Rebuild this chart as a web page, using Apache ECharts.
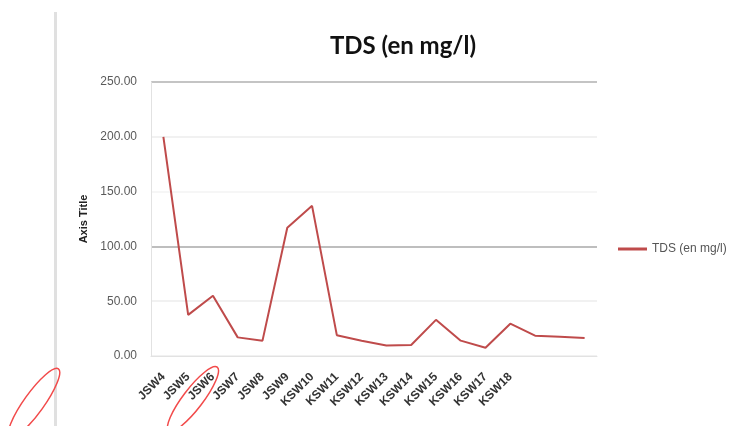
<!DOCTYPE html>
<html>
<head>
<meta charset="utf-8">
<script src="https://cdn.jsdelivr.net/npm/echarts@6/dist/echarts.min.js"></script>
<style>
html,body{margin:0;padding:0;background:#fff;}
#chart{width:737px;height:426px;}
</style>
</head>
<body>
<div id="chart"></div>
<script>
var categories = ["JSW4","JSW5","JSW6","JSW7","JSW8","JSW9","KSW10","KSW11","KSW12","KSW13","KSW14","KSW15","KSW16","KSW17","KSW18","","",""];
var tdsValues = [200, 37.5, 55, 17, 14, 117, 137, 19, 14, 9.5, 10, 33, 14, 7.5, 29.5, 18.5, 17.5, 16.5];
var seriesName = "TDS (en mg/l)";
var chartTitle = "TDS (en mg/l)";
var yAxisName = "Axis Title";

var chart = echarts.init(document.getElementById('chart'));
chart.setOption({
  animation: false,
  backgroundColor: '#ffffff',
  title: {
    text: chartTitle,
    left: 398, top: 29, textAlign: 'center',
    textStyle: {fontFamily: 'Lato', fontWeight: 'bold', fontSize: 24, color: '#111'}
  },
  legend: {
    data: [seriesName],
    left: 613, top: 238,
    icon: 'rect', itemWidth: 29, itemHeight: 3,
    textStyle: {fontFamily: 'Liberation Sans', fontSize: 12, color: '#555'}
  },
  grid: {left: 151, right: 140, top: 82, bottom: 70},
  xAxis: {
    type: 'category',
    data: categories,
    boundaryGap: true,
    axisLine: {show: true, lineStyle: {color: '#e2e2e2'}},
    axisTick: {show: false},
    axisLabel: {interval: 0, rotate: 45, margin: 19, fontFamily: 'Liberation Sans', fontSize: 12, fontWeight: 'bold', color: '#333'}
  },
  yAxis: {
    type: 'value',
    min: 0, max: 250, interval: 50,
    name: yAxisName,
    nameLocation: 'middle',
    nameGap: 62,
    nameTextStyle: {fontFamily: 'Liberation Sans', fontSize: 11, fontWeight: 'bold', color: '#222'},
    axisLine: {show: true, lineStyle: {color: '#e2e2e2'}},
    axisTick: {show: false},
    axisLabel: {margin: 14, fontFamily: 'Liberation Sans', fontSize: 12, color: '#5a5a5a', formatter: function (v) { return v.toFixed(2); }},
    splitLine: {show: true, lineStyle: {color: ['#ececec', '#ececec', '#a9a9a9', '#f3f3f3', '#ececec', '#b0b0b0'], width: 1.5}}
  },
  series: [{
    name: seriesName,
    type: 'line',
    data: tdsValues,
    symbol: 'none',
    lineStyle: {color: '#bf4b4b', width: 2},
    itemStyle: {color: '#bf4b4b'}
  }],
  graphic: [
    {type: 'rect', shape: {x: 54, y: 12, width: 3, height: 420}, style: {fill: '#e0e0e0'}, silent: true},
    {type: 'ellipse', x: 34, y: 403, rotation: 0.95, shape: {cx: 0, cy: 0, rx: 42, ry: 10}, style: {fill: 'none', stroke: '#f24a4a', lineWidth: 1.5}, silent: true},
    {type: 'ellipse', x: 193, y: 399, rotation: 0.92, shape: {cx: 0, cy: 0, rx: 40, ry: 10}, style: {fill: 'none', stroke: '#f24a4a', lineWidth: 1.5}, silent: true}
  ]
});
</script>
</body>
</html>
